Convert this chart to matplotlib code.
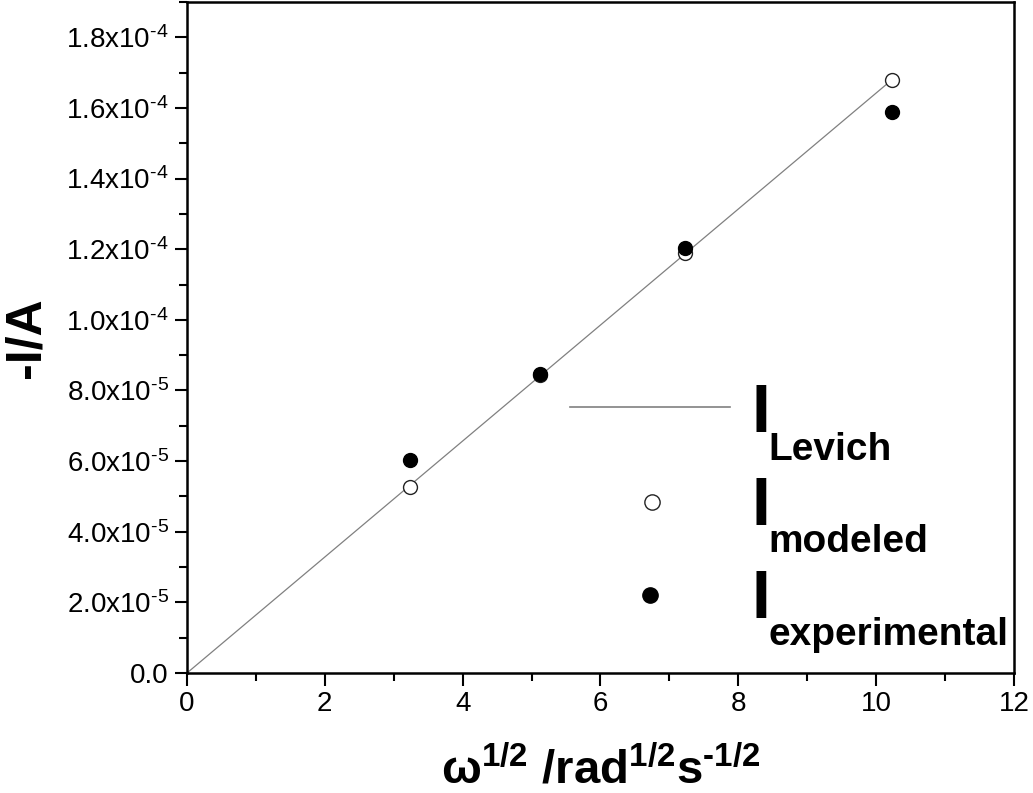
import matplotlib
matplotlib.use("Agg")
import matplotlib.pyplot as plt
from matplotlib.ticker import MultipleLocator, FuncFormatter

# data
omega_sqrt = [3.24, 5.12, 7.23, 10.23]
i_modeled = [5.28e-5, 8.45e-5, 1.19e-4, 1.68e-4]
i_experimental = [6.03e-5, 8.47e-5, 1.204e-4, 1.589e-4]
levich_x = [0.0, 10.23]
levich_y = [0.0, 1.68e-4]

legend_labels = ["Levich", "modeled", "experimental"]

plt.rcParams["font.family"] = ["Liberation Sans", "DejaVu Sans"]
plt.rcParams["mathtext.fontset"] = "custom"
plt.rcParams["mathtext.rm"] = "Liberation Sans"
plt.rcParams["mathtext.it"] = "Liberation Sans:italic"
plt.rcParams["mathtext.bf"] = "Liberation Sans:bold"

HY = "\u2010"  # plain hyphen, mathtext would turn '-' into a minus sign


def y_fmt(v, pos):
    if abs(v) < 1e-12:
        return "0.0"
    exp = 0
    m = v
    while abs(m) < 1:
        m *= 10
        exp -= 1
    return "%.1fx10$^{%s%d}$" % (m, HY, -exp)


def main():
    fig = plt.figure(figsize=(10.33, 7.93), dpi=100)
    ax = fig.add_axes([0.181, 0.1513, 0.8006, 0.8462])

    ax.plot(levich_x, levich_y, color="#808080", lw=0.9, zorder=2)
    ax.plot(omega_sqrt, i_modeled, ls="none", marker="o", ms=10,
            mfc="white", mec="#222222", mew=1.0, zorder=3)
    ax.plot(omega_sqrt, i_experimental, ls="none", marker="o", ms=10,
            mfc="black", mec="black", zorder=4)

    ax.set_xlim(0, 12)
    ax.set_ylim(0, 1.9e-4)
    ax.xaxis.set_major_locator(MultipleLocator(2))
    ax.xaxis.set_minor_locator(MultipleLocator(1))
    ax.yaxis.set_major_locator(MultipleLocator(2e-5))
    ax.yaxis.set_minor_locator(MultipleLocator(1e-5))
    ax.yaxis.set_major_formatter(FuncFormatter(y_fmt))

    ax.tick_params(which="major", direction="out", length=9, width=1.5,
                   labelsize=20, pad=4)
    ax.tick_params(which="minor", direction="out", length=5.5, width=1.5)
    for s in ax.spines.values():
        s.set_linewidth(1.8)

    ax.set_ylabel("-I/A", fontsize=36, fontweight="bold", labelpad=12)
    ax.set_xlabel(r"$\mathbf{\omega^{1/2}\ /rad^{1/2}s^{%s1/2}}$" % HY,
                  fontsize=34, labelpad=22)

    # hand-drawn key, as in the original
    tr = ax.transAxes
    ax.plot([0.463, 0.657], [0.396, 0.396], color="#808080", lw=1.2,
            transform=tr)
    ax.plot([0.562], [0.255], ls="none", marker="o", ms=11, mfc="white",
            mec="#222222", mew=1.0, transform=tr)
    ax.plot([0.560], [0.116], ls="none", marker="o", ms=11, mfc="black",
            mec="black", transform=tr)
    i_base = [0.359, 0.2206, 0.082]
    sub_base = [0.317, 0.180, 0.0417]
    for lab, yb, ys in zip(legend_labels, i_base, sub_base):
        ax.text(0.683, yb, "I", fontsize=49, fontweight="bold",
                ha="left", va="baseline", transform=tr)
        ax.text(0.703, ys, lab, fontsize=28, fontweight="bold",
                ha="left", va="baseline", transform=tr)

    fig.savefig("out.png", dpi=100)


if __name__ == "__main__":
    main()
